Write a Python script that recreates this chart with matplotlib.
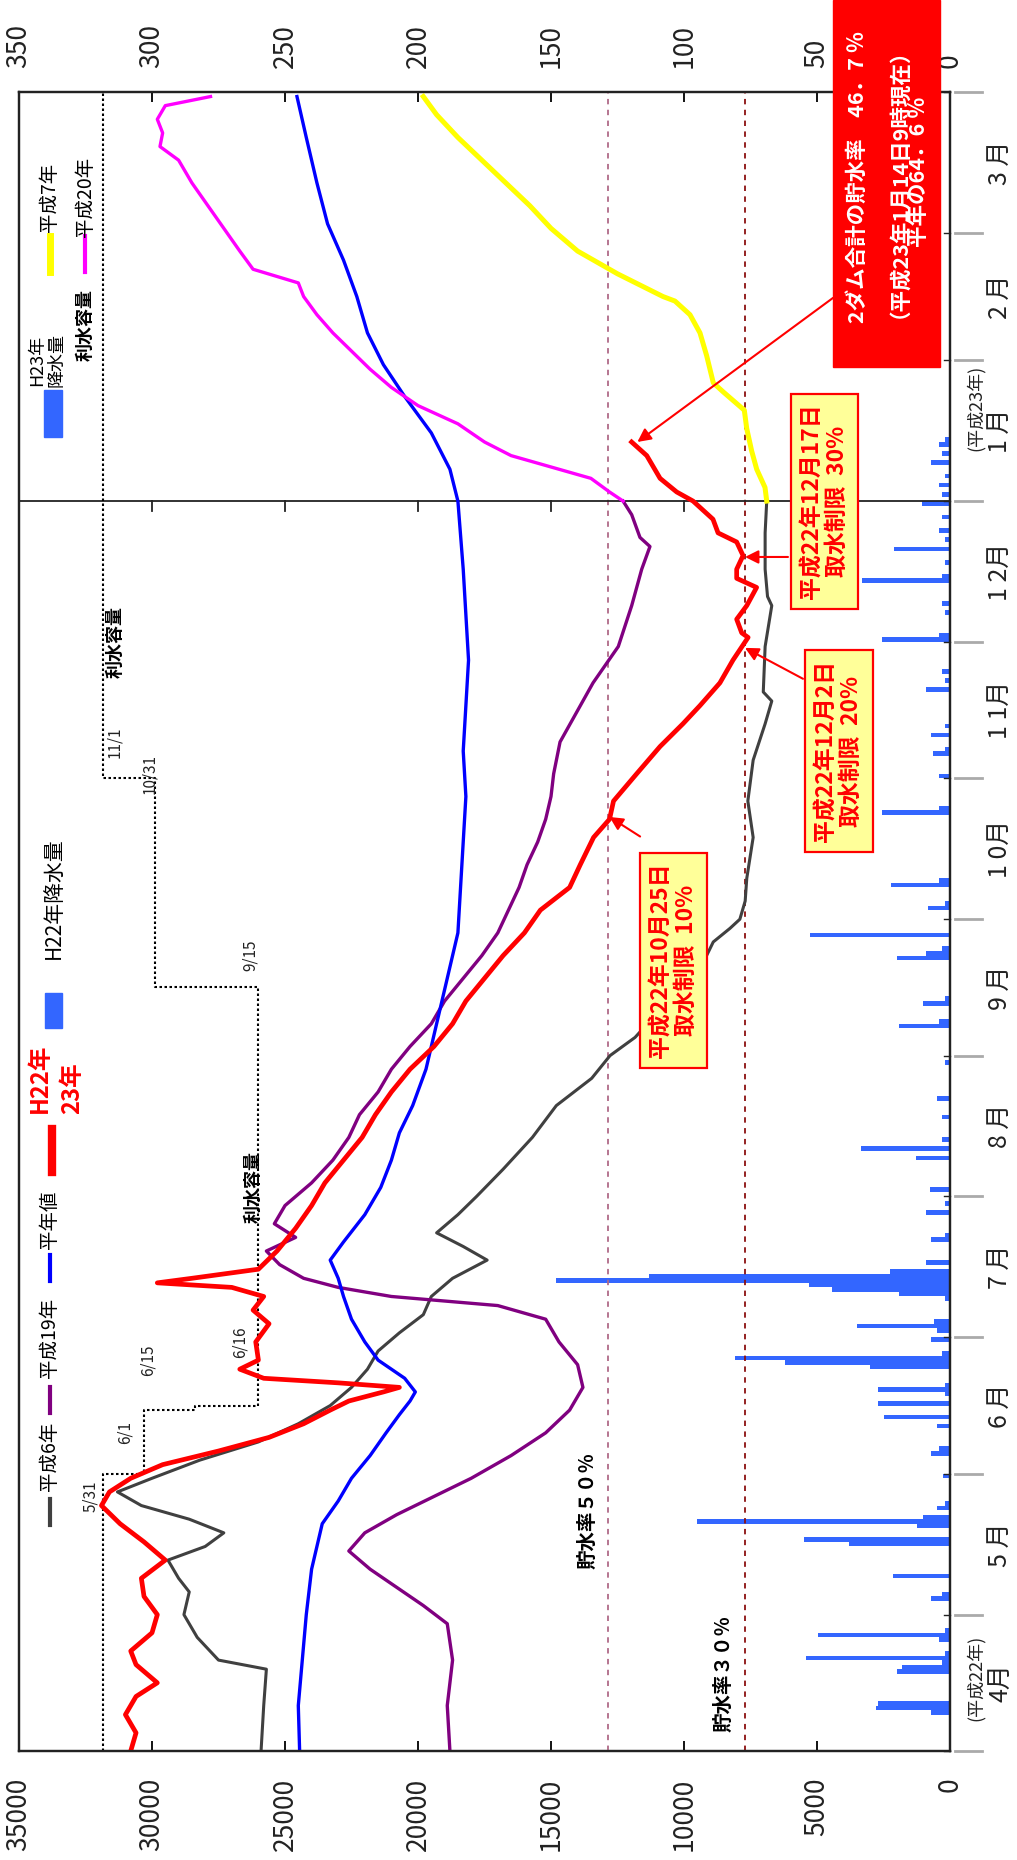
import matplotlib
matplotlib.use("Agg")
import matplotlib.pyplot as plt
from matplotlib.transforms import blended_transform_factory as btf

plt.rcParams['font.family'] = ['Noto Sans CJK JP', 'DejaVu Sans']

# ---------------- data ----------------
# day index counted from 2010-04-01 (day 0) to 2011-03-31 (day 364)
month_start = [0, 30, 61, 91, 122, 153, 183, 214, 244, 275, 306, 334, 365]
month_labels = ['4月', '5 月', '6 月', '7 月', '8 月', '9 月', '1 0月', '1 1月', '1 2月', '1 月', '2 月', '3 月']
vol_ticks = [0, 5000, 10000, 15000, 20000, 25000, 30000, 35000]
rain_ticks = [0, 50, 100, 150, 200, 250, 300, 350]

red_day = [0, 4, 8, 12, 15, 19, 22, 26, 30, 34, 38, 42, 46, 50, 54, 57, 60, 63, 66, 69, 72, 75, 77, 79, 80,
           81, 82, 84, 86, 90, 94, 97, 100, 102, 103, 104, 106, 110, 115, 120, 125, 130, 135, 140, 145, 150,
           155, 160, 165, 170, 175, 180, 185, 190, 195, 201, 205, 209, 215, 221, 226, 230, 235, 240, 245,
           246, 249, 252, 256, 258, 260, 263, 266, 268, 271, 275, 277, 280, 285, 288]
red_vol = [30800, 30600, 31000, 30600, 29800, 30600, 30800, 30000, 29800, 30300, 30400, 29500, 30300, 31200,
           31900, 31600, 30800, 29600, 27500, 25600, 24300, 23300, 22600, 21300, 20700, 23000, 25800, 26700,
           26000, 26100, 25600, 26200, 25800, 27000, 29800, 28500, 26000, 25300, 24600, 24000, 23500, 22800,
           22100, 21600, 21000, 20300, 19400, 18700, 18200, 17500, 16800, 16000, 15400, 14300, 13900, 13400,
           12800, 12650, 11780, 10900, 10040, 9400, 8650, 8160, 7590, 7830, 8020, 7640, 7270, 8020, 8020, 7780,
           8020, 8720, 8910, 9660, 10275, 10900, 11400, 11970]

h6_day = [0, 10, 18, 20, 25, 30, 35, 38, 42, 45, 48, 51, 54, 57, 60, 64, 68, 72, 76, 80, 84, 88, 92, 96, 100,
          104, 108, 111, 114, 118, 122, 128, 135, 142, 148, 153, 157, 165, 175, 178, 181, 183, 187, 192, 201,
          209, 218, 226, 231, 233, 243, 252, 254, 260, 268, 275]
h6_vol = [25900, 25800, 25700, 27500, 28300, 28800, 28600, 29000, 29400, 28000, 27300, 28600, 30400, 31300,
          30000, 28200, 26000, 24500, 23300, 22500, 21900, 21500, 20700, 19800, 19500, 18700, 17400, 18300,
          19300, 18500, 17800, 16800, 15700, 14800, 13470, 12780, 11840, 10600, 9150, 8900, 8270, 7900, 7700,
          7640, 7400, 7600, 7400, 6950, 6700, 7020, 6950, 6700, 6860, 6950, 6950, 6890]

h7_day = [275, 278, 282, 286, 291, 295, 299, 301, 307, 312, 316, 319, 320, 325, 330, 335, 340, 345, 350, 355, 360, 364]
h7_vol = [6890, 6955, 7267, 7455, 7643, 7733, 8522, 8898, 9149, 9399, 9775, 10339, 10790, 12500, 14000, 15000,
          15800, 16700, 17600, 18500, 19300, 19800]

h19_day = [0, 10, 20, 28, 32, 36, 40, 44, 48, 52, 56, 60, 65, 70, 75, 80, 85, 90, 95, 98, 100, 102, 104, 107,
           110, 113, 116, 120, 125, 130, 135, 140, 145, 150, 155, 160, 165, 170, 175, 180, 185, 190, 195, 200,
           205, 210, 215, 222, 235, 243, 252, 260, 265, 267, 272, 275]
h19_vol = [18800, 18900, 18700, 18900, 19800, 20800, 21800, 22600, 22000, 20800, 19400, 18000, 16500, 15200,
           14300, 13800, 14000, 14700, 15200, 17000, 21000, 23000, 24300, 25200, 25700, 24600, 25400, 25000,
           24000, 23200, 22600, 22200, 21500, 21000, 20300, 19500, 19000, 18300, 17600, 17000, 16600, 16200,
           15900, 15500, 15200, 15000, 14900, 14660, 13420, 12470, 11966, 11590, 11280, 11655, 11966, 12290]

h20_day = [275, 277, 280, 282, 285, 288, 292, 296, 300, 304, 308, 312, 316, 320, 323, 326, 330, 335, 340, 345,
           350, 353, 356, 359, 362, 364]
h20_vol = [12290, 12800, 13500, 14700, 16500, 17500, 18500, 20000, 21000, 21800, 22500, 23200, 23800, 24300,
           24500, 26200, 26700, 27300, 27900, 28500, 29000, 29700, 29600, 29800, 29500, 27800]

avg_day = [0, 10, 20, 30, 40, 50, 55, 60, 65, 70, 74, 77, 79, 82, 86, 90, 95, 100, 104, 108, 112, 118, 124, 130,
           136, 142, 150, 160, 170, 180, 190, 200, 210, 220, 230, 240, 250, 260, 275, 282, 290, 298, 305, 312,
           320, 328, 336, 345, 355, 364]
avg_vol = [24450, 24500, 24350, 24200, 24000, 23600, 23000, 22500, 21800, 21200, 20700, 20300, 20100, 20500,
           21500, 22000, 22500, 22800, 23000, 23300, 22800, 22000, 21400, 21000, 20700, 20200, 19700, 19300,
           18900, 18500, 18400, 18300, 18200, 18300, 18200, 18100, 18200, 18300, 18500, 18800, 19500, 20500,
           21300, 21900, 22300, 22800, 23400, 23800, 24200, 24550]

# usable storage capacity (step function) and its change dates
cap_change_day = [0, 61, 75, 76, 168, 214, 365]
cap_vol = [31840, 30300, 28400, 26000, 29900, 31840]
cap_labels = ['5/31', '6/1', '6/15', '6/16', '9/15', '10/31', '11/1']
rate50_vol = 12850
rate30_vol = 7710

rain_day = [8, 9, 10, 17, 18, 19, 20, 21, 24, 25, 26, 33, 34, 38, 45, 46, 49, 50, 51, 53, 54, 60, 65, 66, 71,
            73, 76, 78, 79, 80, 84, 85, 86, 87, 90, 92, 93, 94, 99, 100, 101, 102, 103, 104, 105, 107, 112,
            113, 118, 120, 123, 130, 132, 134, 139, 143, 151, 159, 160, 164, 165, 174, 175, 176, 179, 185,
            186, 190, 191, 206, 207, 214, 219, 220, 223, 225, 233, 235, 237, 244, 245, 250, 252, 257, 258,
            261, 264, 266, 268, 271, 274, 276, 278, 280, 283, 285, 287, 288]
rain_mm = [7, 28, 27, 20, 18, 3, 54, 2, 4, 49.5, 2, 7, 3, 21.5, 38, 55, 12.5, 95, 10, 5, 2, 2.5, 7, 4, 5,
           25, 27, 2, 27, 2, 30, 62, 81, 3, 7, 5, 35, 6, 2, 19, 44.5, 53, 148, 113, 22.5, 9, 7,
           2, 9, 2, 7.5, 12.8, 33.5, 3, 3, 5, 2, 19, 4, 10, 2, 20, 9, 3, 52.6, 8.4,
           2, 22, 4, 25.7, 4, 4, 6.5, 2, 7, 2, 9, 2, 3, 25.7, 4, 2, 3, 33, 3,
           2, 21, 2, 4, 3, 10.6, 3, 4, 2, 7, 3, 4, 2]
jan_split = 275  # 2011-01-01

red_box_lines = ['2ダム合計の貯水率　46．7 ％', '（平成23年1月14日9時現在）', '平年の64．6 ％']

# ---------------- figure ----------------
W, H = 1017, 1860
fig = plt.figure(figsize=(W / 100, H / 100), dpi=100)
L, R, T, B = 19, 950, 92, 1751
ax = fig.add_axes([L / W, 1 - B / H, (R - L) / W, (B - T) / H])
ax2 = ax.twiny()
ax.set_zorder(3)
ax.patch.set_visible(False)


def fx(px):
    return px / W


def fy(py):
    return 1 - py / H


# precipitation bars (top axis, 0 at right)
ax2.set_xlim(350, 0)
ax2.set_ylim(0, 365)
ax2.barh([d + 0.5 for d in rain_day], rain_mm, height=1.0, color='#3366ff', edgecolor='none')
ax2.set_xticks(rain_ticks)
ax2.set_xticklabels([str(v) for v in rain_ticks], rotation=90, fontsize=19, color='#222222')
ax2.tick_params(axis='x', direction='in', length=7, width=1.3, pad=17)
ax2.xaxis.set_ticks_position('top')

# storage axis (bottom, 35000 at left)
ax.set_xlim(35000, 0)
ax.set_ylim(0, 365)
ax.set_xticks(vol_ticks)
ax.set_xticklabels([str(v) for v in vol_ticks], rotation=90, fontsize=19, color='#222222')
ax.tick_params(axis='x', direction='in', length=7, width=1.3, pad=19)
ax.set_yticks([])
for sp in list(ax.spines.values()) + list(ax2.spines.values()):
    sp.set_linewidth(1.6)
    sp.set_color('#222222')

# reference lines
ax.axvline(rate50_vol, color='#b06a88', ls=(0, (3, 3)), lw=1.3)
ax.axvline(rate30_vol, color='#8b1010', ls=(0, (3, 3)), lw=1.3)
ax.axhline(jan_split, color='#222222', lw=1.3)
for v in vol_ticks[1:-1]:
    ax.plot([v, v], [jan_split - 2.2, jan_split], color='#222222', lw=1.3)

# usable capacity step line
cx, cy = [], []
for i, v in enumerate(cap_vol):
    cx += [v, v]
    cy += [cap_change_day[i], cap_change_day[i + 1]]
ax.plot(cx, cy, color='black', ls=(0, (1.2, 1.2)), lw=1.5)

# lines
ax.plot(h6_vol, h6_day, color='#404040', lw=2.2)
ax.plot(h19_vol, h19_day, color='#800080', lw=2.4)
ax.plot(avg_vol, avg_day, color='#0000ff', lw=2.4)
ax.plot(h7_vol, h7_day, color='#ffff00', lw=3.6)
ax.plot(h20_vol, h20_day, color='#ff00ff', lw=2.4)
ax.plot(red_vol, red_day, color='#ff0000', lw=3.4)

# month labels and gray month ticks on right
tr = btf(ax.transAxes, ax.transData)
for i, lab in enumerate(month_labels):
    mid = (month_start[i] + month_start[i + 1]) / 2
    ax.text((1000 - L) / (R - L), mid, lab, transform=tr, rotation=90, ha='center', va='center',
            fontsize=18, color='#222222', clip_on=False)
for d in month_start:
    ax.plot([(955 - L) / (R - L), (982 - L) / (R - L)], [d, d], transform=tr, color='#aaaaaa', lw=2,
            clip_on=False)
    ax.plot([1.0, 0.994], [d, d], transform=tr, color='#222222', lw=1, clip_on=False)
ax.text((975 - L) / (R - L), (month_start[0] + month_start[1]) / 2 + 1, '(平成22年)', transform=tr,
        rotation=90, ha='center', va='center', fontsize=13, color='#222222', clip_on=False)
ax.text((975 - L) / (R - L), (month_start[9] + month_start[10]) / 2 + 5, '(平成23年)', transform=tr,
        rotation=90, ha='center', va='center', fontsize=13, color='#222222', clip_on=False)

# capacity labels
lab_pos = [(32300, 56), (31000, 70), (30150, 86), (26700, 90), (26300, 175), (30100, 215), (31400, 222)]
for (v, d), t in zip(lab_pos, cap_labels):
    ax.text(v, d, t, rotation=90, fontsize=11, style='italic', ha='center', va='center', color='#222222')
ax.text(26200, 124, '利水容量', rotation=90, fontsize=13, fontweight='bold', ha='center', va='center')
ax.text(31400, 244, '利水容量', rotation=90, fontsize=13, fontweight='bold', ha='center', va='center')
ax.text(rate50_vol + 750, 53, '貯水率５０％', rotation=90, fontsize=14, fontweight='bold', ha='center',
        va='center')
ax.text(rate30_vol + 800, 17, '貯水率３０％', rotation=90, fontsize=14, fontweight='bold', ha='center',
        va='center')


# legends (drawn as text + short line samples)
def leg_line(x, y0, y1, color, lw):
    fig.add_artist(plt.Line2D([fx(x), fx(x)], [fy(y0), fy(y1)], color=color, lw=lw))


def leg_text(x, y, s, **kw):
    fig.text(fx(x), fy(y), s, rotation=90, ha='center', va='center', **kw)


leg_line(50, 1499, 1525, '#404040', 3); leg_text(50, 1456, '平成6年', fontsize=14)
leg_line(50, 1387, 1413, '#800080', 3); leg_text(50, 1338, '平成19年', fontsize=14)
leg_line(50, 1255, 1281, '#0000ff', 3); leg_text(50, 1220, '平年値', fontsize=14)
leg_line(52, 1129, 1172, '#ff0000', 6)
leg_text(40, 1078, 'H22年', fontsize=17, color='red', fontweight='bold')
leg_text(72, 1088, '23年', fontsize=17, color='red', fontweight='bold')
fig.add_artist(plt.Rectangle((fx(45), fy(1028)), 17 / W, 35 / H, color='#3366ff'))
leg_text(54, 898, 'H22年降水量', fontsize=15)
fig.add_artist(plt.Rectangle((fx(44), fy(437)), 18 / W, 47 / H, color='#3366ff'))
leg_text(37, 360, 'H23年', fontsize=13)
leg_text(56, 360, '降水量', fontsize=13)
fig.text(fx(85), fy(325), '利水容量', rotation=90, ha='center', va='center', fontsize=13, fontweight='bold')
leg_line(50, 236, 272, '#ffff00', 5); leg_text(50, 197, '平成7年', fontsize=14)
leg_line(85, 236, 272, '#ff00ff', 3); leg_text(85, 197, '平成20年', fontsize=14)

# annotation boxes
box_kw = dict(boxstyle='square,pad=0.42', fc='#ffff99', ec='red', lw=1.6)
arr_kw = dict(arrowstyle='-|>', color='red', lw=1.5, mutation_scale=20, shrinkA=0, shrinkB=0)
ax.text(10395, 174, '平成22年10月25日\n取水制限  10%', rotation=90, ha='center', va='center', fontsize=16.5,
        fontweight='bold', color='red', bbox=box_kw, linespacing=1.15)
ax.annotate('', xy=(12800, 205.5), xytext=(11650, 201.2), arrowprops=arr_kw)
ax.text(4174, 220, '平成22年12月2日\n取水制限  20%', rotation=90, ha='center', va='center', fontsize=16.5,
        fontweight='bold', color='red', bbox=box_kw, linespacing=1.15)
ax.annotate('', xy=(7707, 242.7), xytext=(5527, 235.9), arrowprops=arr_kw)
ax.text(4718, 275, '平成22年12月17日\n取水制限  30%', rotation=90, ha='center', va='center', fontsize=16.5,
        fontweight='bold', color='red', bbox=box_kw, linespacing=1.15)
ax.annotate('', xy=(7707, 262.7), xytext=(6091, 262.7), arrowprops=arr_kw)

# red status box (drawn in figure pixels, three separate lines anchored on their baselines)
fig.add_artist(plt.Rectangle((fx(833), fy(367)), 107 / W, 367 / H, color='#ff0000', zorder=5))
for xpix, ypix, s in zip([856, 886, 917], [177, 172, 172], red_box_lines):
    fig.text(fx(xpix + 8), fy(ypix), s, rotation=90, rotation_mode='anchor', ha='center', va='baseline',
             fontsize=15.5, fontweight='bold', color='white', zorder=6)
ax.annotate('', xy=(11753, 288), xytext=(4398, 319.7), arrowprops=arr_kw)

fig.savefig('out.png', dpi=100)
